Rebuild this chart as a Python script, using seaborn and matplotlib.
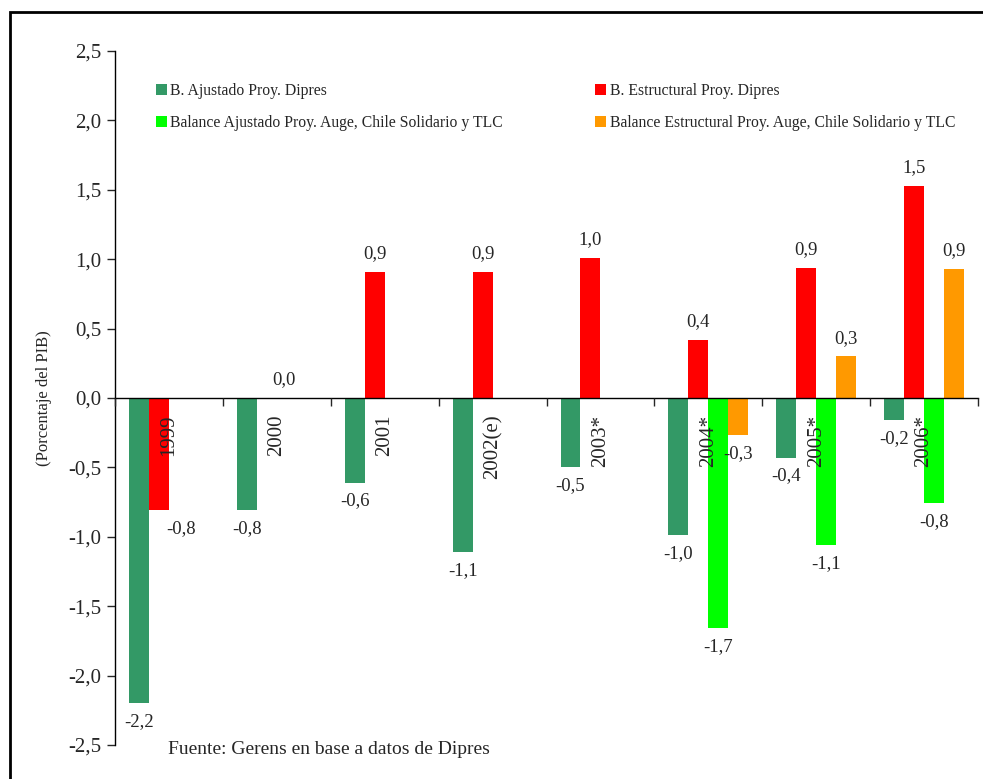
import numpy as np
import pandas as pd
import matplotlib
matplotlib.use("Agg")
import matplotlib.pyplot as plt
from matplotlib.ticker import FuncFormatter, FixedLocator
from matplotlib.patches import Rectangle
import seaborn as sns

years = ["1999", "2000", "2001", "2002(e)", "2003*", "2004*", "2005*", "2006*"]
series = ["B. Ajustado Proy. Dipres",
          "B. Estructural Proy. Dipres",
          "Balance Ajustado Proy. Auge, Chile Solidario y TLC",
          "Balance Estructural Proy. Auge, Chile Solidario y TLC"]
ajustado_dipres = [-2.20, -0.81, -0.61, -1.11, -0.50, -0.99, -0.43, -0.16]
estructural_dipres = [-0.81, 0.0, 0.91, 0.91, 1.01, 0.42, 0.94, 1.53]
ajustado_auge = [np.nan, np.nan, np.nan, np.nan, np.nan, -1.66, -1.06, -0.76]
estructural_auge = [np.nan, np.nan, np.nan, np.nan, np.nan, -0.27, 0.30, 0.93]
colors = ["#339966", "#FF0000", "#00FF00", "#FF9900"]
y_ticks = [-2.5, -2.0, -1.5, -1.0, -0.5, 0.0, 0.5, 1.0, 1.5, 2.0, 2.5]
source = "Fuente: Gerens en base a datos de Dipres"
ylabel = "(Porcentaje del PIB)"

rows = []
for s, vals in zip(series, [ajustado_dipres, estructural_dipres, ajustado_auge, estructural_auge]):
    for y, v in zip(years, vals):
        rows.append({"year": y, "serie": s, "valor": v})
df = pd.DataFrame(rows)

sns.set_style("white")
plt.rcParams["font.family"] = ["Liberation Serif", "DejaVu Serif"]

fig = plt.figure(figsize=(9.83, 7.79), dpi=100)
ax = fig.add_axes([115/983, 1-745/779, (978-115)/983, (745-51)/779])

sns.barplot(data=df, x="year", y="valor", hue="serie", order=years, hue_order=series,
            palette=colors, errorbar=None, width=0.74, ax=ax, saturation=1,
            linewidth=0)
for p in ax.patches:
    p.set_zorder(1)
ax.xaxis.set_zorder(4)

ax.set_ylim(-2.5, 2.5)
ax.set_xlim(-0.5, len(years) - 0.5)
ax.yaxis.set_major_locator(FixedLocator(y_ticks))
ax.yaxis.set_major_formatter(FuncFormatter(lambda v, p: f"{v:.1f}".replace(".", ",")))
ax.tick_params(axis="y", direction="out", length=6, width=1, labelsize=15, left=True, pad=4)

ax.spines["top"].set_visible(False)
ax.spines["right"].set_visible(False)
ax.spines["left"].set_linewidth(1)
ax.spines["bottom"].set_position(("data", 0))
ax.spines["bottom"].set_linewidth(1)
for sp in ["left", "bottom"]:
    ax.spines[sp].set_color("black")

ax.set_xticks(range(len(years)))
ax.set_xticklabels(years, rotation=90, fontsize=15)
ax.xaxis.set_minor_locator(FixedLocator(np.arange(-0.5, len(years), 1.0)))
ax.tick_params(axis="x", which="major", length=0, pad=12)
ax.tick_params(axis="x", which="minor", direction="out", length=6, width=1, bottom=True)
ax.set_xlabel("")
ax.set_ylabel(ylabel, fontsize=12)
ax.yaxis.set_label_coords(-0.073, 0.5)

# value labels
fmt = lambda v: f"{v:.1f}".replace(".", ",")
shifts = {("B. Estructural Proy. Dipres", "1999"): 16, ("B. Estructural Proy. Dipres", "2000"): 12}
for cont, s in zip(ax.containers, series):
    texts = ax.bar_label(cont, fmt=fmt, padding=7, fontsize=13.5)
    for t, b in zip(texts, list(cont)):
        cx = b.get_x() + b.get_width() / 2
        key = (s, years[int(round(cx))])
        if key in shifts:
            dx, dy = t.xyann
            t.xyann = (dx + shifts[key], dy)

# legend
leg = ax.get_legend()
if leg is not None:
    leg.remove()
handles = [Rectangle((0, 0), 1, 1, facecolor=c, edgecolor="none") for c in colors]
order = [0, 2, 1, 3]
fig.legend([handles[i] for i in order], [series[i] for i in order], ncol=2,
           loc="upper left", bbox_to_anchor=(156/983, 1-83/779), frameon=False,
           fontsize=11.3, handlelength=0.7, handleheight=0.7, handletextpad=0.2,
           columnspacing=5.9, labelspacing=1.05, borderaxespad=0, borderpad=0)

fig.text(168/983, 1-749/779, source, fontsize=14, va="center", ha="left")

fig.patches.append(Rectangle((10/983, -0.1), 1.2, 1.1 - 12/779, transform=fig.transFigure,
                             fill=False, edgecolor="black", linewidth=2, figure=fig))

fig.savefig("out.png", dpi=100)
